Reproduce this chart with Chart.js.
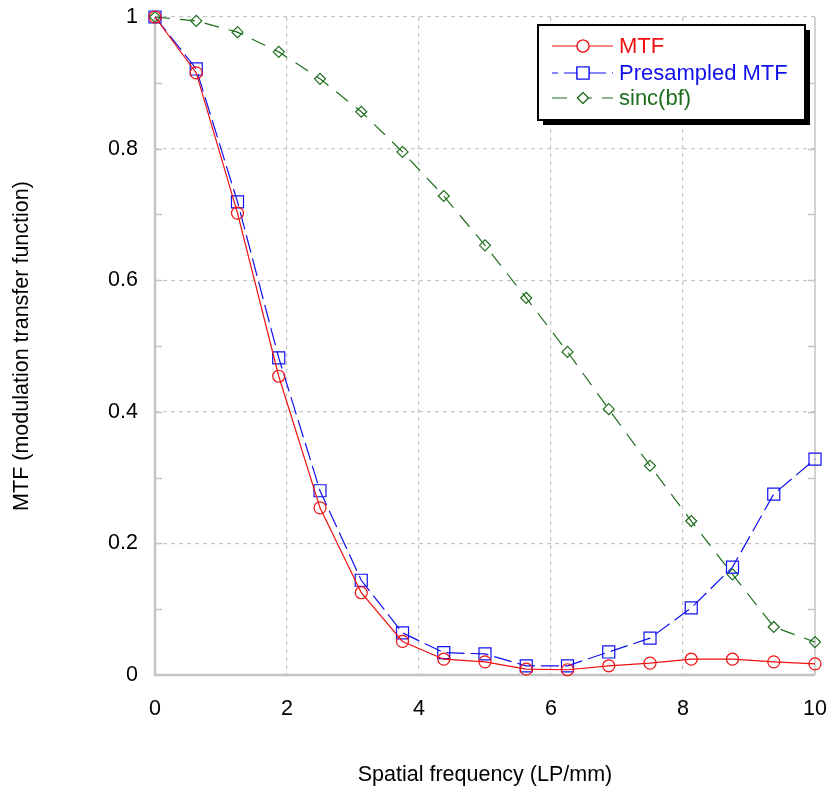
<!DOCTYPE html>
<html>
<head>
<meta charset="utf-8">
<script src="https://cdn.jsdelivr.net/npm/chart.js@4.4.1/dist/chart.umd.min.js"></script>
<style>
    html, body { margin: 0; padding: 0; background: #fff; }
    #wrap { width: 831px; height: 791px; }
</style>
</head>
<body>
<div id="wrap"><canvas id="grafico"></canvas></div>
<script>
const freq = [0, 0.625, 1.25, 1.875, 2.5, 3.125, 3.75, 4.375, 5, 5.625, 6.25, 6.875, 7.5, 8.125, 8.75, 9.375, 10];
const mtf = [1, 0.915, 0.702, 0.454, 0.254, 0.125, 0.051, 0.024, 0.020, 0.009, 0.008, 0.014, 0.018, 0.024, 0.024, 0.020, 0.017];
const presampled = [1, 0.921, 0.719, 0.482, 0.280, 0.144, 0.064, 0.034, 0.032, 0.014, 0.014, 0.035, 0.056, 0.102, 0.164, 0.275, 0.328];
const sinc = [1, 0.994, 0.977, 0.947, 0.906, 0.856, 0.795, 0.728, 0.653, 0.573, 0.491, 0.404, 0.318, 0.234, 0.153, 0.073, 0.050];
const xTickLabels = ['0', '2', '4', '6', '8', '10'];
const yTickLabels = ['0', '0.2', '0.4', '0.6', '0.8', '1'];

const font = 'Arial, "Liberation Sans", sans-serif';
const gridGray = '#c4c4c4';

function pontos(ys) {
    return freq.map((x, i) => ({ x: x, y: ys[i] }));
}

// moldura, minor ticks e legenda com sombra
const extras = {
    id: 'extras',
    beforeDatasetsDraw(chart) {
        const ctx = chart.ctx;
        const a = chart.chartArea;
        const y = chart.scales.y;
        ctx.save();
        ctx.strokeStyle = gridGray;
        ctx.lineWidth = 1.5;
        for (let k = 1; k < 10; k++) {
            const py = Math.round(y.getPixelForValue(k / 10)) + 0.5;
            ctx.beginPath();
            ctx.moveTo(a.left, py); ctx.lineTo(a.left + 7, py);
            ctx.moveTo(a.right, py); ctx.lineTo(a.right - 7, py);
            ctx.stroke();
        }
        ctx.lineWidth = 2.5;
        ctx.beginPath();
        ctx.moveTo(a.left, a.top);
        ctx.lineTo(a.left, a.bottom);
        ctx.lineTo(a.right, a.bottom);
        ctx.stroke();
        ctx.lineWidth = 1.5;
        ctx.beginPath();
        ctx.moveTo(a.right, a.bottom);
        ctx.lineTo(a.right, a.top);
        ctx.stroke();
        ctx.restore();
    },
    afterDraw(chart) {
        const ctx = chart.ctx;
        const bx = 538, by = 25, bw = 267, bh = 95;
        ctx.save();
        ctx.fillStyle = '#000';
        ctx.fillRect(bx + 5, by + 5, bw, bh);
        ctx.fillStyle = '#fff';
        ctx.fillRect(bx, by, bw, bh);
        ctx.strokeStyle = '#000';
        ctx.lineWidth = 2;
        ctx.strokeRect(bx, by, bw, bh);
        const rows = [46, 73, 98];
        chart.data.datasets.forEach((ds, i) => {
            const ry = rows[i];
            ctx.strokeStyle = ds.borderColor;
            ctx.lineWidth = ds.borderWidth;
            ctx.setLineDash(ds.borderDash || []);
            ctx.lineDashOffset = i === 1 ? 12 : 0;
            ctx.beginPath();
            ctx.moveTo(552, ry); ctx.lineTo(613, ry);
            ctx.stroke();
            ctx.setLineDash([]);
            ctx.lineWidth = 1.2;
            Chart.helpers.drawPoint(ctx, {
                pointStyle: ds.pointStyle, radius: ds.pointRadius, borderWidth: 1.2
            }, 583, ry);
            ctx.fillStyle = '#fff';
            ctx.fill();
            Chart.helpers.drawPoint(ctx, {
                pointStyle: ds.pointStyle, radius: ds.pointRadius, borderWidth: 1.2
            }, 583, ry);
            ctx.fillStyle = ds.borderColor;
            ctx.font = '22px ' + font;
            ctx.textBaseline = 'middle';
            ctx.fillText(ds.label, 619, ry + 1);
        });
        ctx.restore();
    }
};

const ctx = document.getElementById('grafico').getContext('2d');
new Chart(ctx, {
    type: 'line',
    data: {
        datasets: [
            { label: 'MTF', data: pontos(mtf), borderColor: '#f01010', borderWidth: 1.2,
              pointStyle: 'circle', pointRadius: 6, pointBorderWidth: 1.2, pointBackgroundColor: 'rgba(0,0,0,0)', clip: false },
            { label: 'Presampled MTF', data: pontos(presampled), borderColor: '#1010f0', borderWidth: 1.2, borderDash: [18, 6],
              pointStyle: 'rect', pointRadius: 8.5, pointBorderWidth: 1.2, pointBackgroundColor: 'rgba(0,0,0,0)', clip: false },
            { label: 'sinc(bf)', data: pontos(sinc), borderColor: '#1e6e1e', borderWidth: 1.2, borderDash: [15, 10],
              pointStyle: 'rectRot', pointRadius: 5.5, pointBorderWidth: 1.2, pointBackgroundColor: 'rgba(0,0,0,0)', clip: false }
        ]
    },
    options: {
        responsive: true,
        maintainAspectRatio: false,
        animation: false,
        layout: { padding: 0 },
        plugins: { legend: { display: false }, tooltip: { enabled: false } },
        scales: {
            x: {
                type: 'linear', min: 0, max: 10,
                afterFit: s => { s.height = 116; s.paddingLeft = 0; s.paddingRight = 16; },
                border: { display: false, dash: [4, 4] },
                grid: { drawTicks: false, lineWidth: 1.2,
                        color: c => (c.tick.value > 0 && c.tick.value < 10) ? gridGray : 'rgba(0,0,0,0)' },
                ticks: { stepSize: 2, padding: 21, color: '#000', font: { family: font, size: 21.5 },
                         callback: (v, i) => xTickLabels[i] },
                title: { display: true, text: 'Spatial frequency (LP/mm)', color: '#000',
                         font: { family: font, size: 21.5 }, padding: { top: 0, bottom: 3 } }
            },
            y: {
                min: 0, max: 1,
                afterFit: s => { s.width = 155; s.paddingTop = 17; s.paddingBottom = 0; },
                border: { display: false, dash: [4, 4] },
                grid: { drawTicks: false, lineWidth: 1.2,
                        color: c => (c.tick.value > 0.05 && Math.round(c.tick.value * 10) % 2 === 0) ? gridGray : 'rgba(0,0,0,0)' },
                ticks: { stepSize: 0.2, padding: 17, color: '#000', font: { family: font, size: 21.5 },
                         callback: (v, i) => yTickLabels[i] },
                title: { display: true, text: 'MTF (modulation transfer function)', color: '#000',
                         font: { family: font, size: 21.5 }, padding: { top: 9, bottom: 0 } }
            }
        }
    },
    plugins: [extras]
});
</script>
</body>
</html>
